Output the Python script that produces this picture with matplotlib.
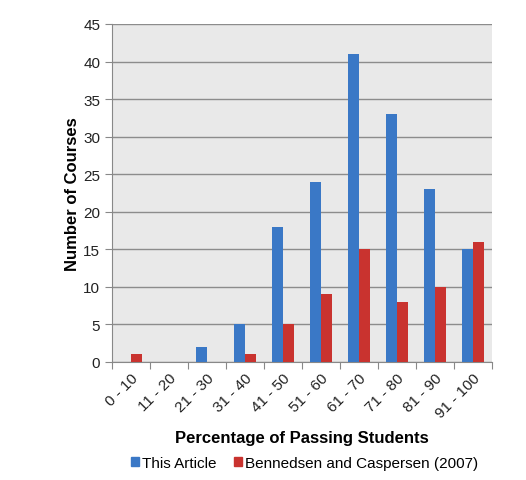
import numpy as np
import matplotlib
matplotlib.use("Agg")
import matplotlib.pyplot as plt
from matplotlib.patches import Patch

categories = ["0 - 10", "11 - 20", "21 - 30", "31 - 40", "41 - 50",
              "51 - 60", "61 - 70", "71 - 80", "81 - 90", "91 - 100"]
this_article = [0, 0, 2, 5, 18, 24, 41, 33, 23, 15]
bennedsen = [1, 0, 0, 1, 5, 9, 15, 8, 10, 16]
y_ticks = [0, 5, 10, 15, 20, 25, 30, 35, 40, 45]

plt.rcParams["font.family"] = ["Liberation Sans", "DejaVu Sans"]

blue = "#3a78c6"
red = "#c9332f"

fig = plt.figure(figsize=(5.26, 4.81), dpi=100)
ax = fig.add_axes([112 / 526, 1 - 363 / 481, 380 / 526, 338 / 481])
ax.set_facecolor("#e9e9e9")

x = np.arange(len(categories))
w = 0.29
ax.bar(x - w / 2, this_article, w, color=blue, zorder=3)
ax.bar(x + w / 2, bennedsen, w, color=red, zorder=3)

ax.set_xlim(-0.5, len(categories) - 0.5)
ax.set_ylim(0, 45)
ax.set_yticks(y_ticks)
ax.yaxis.grid(True, color="#8c8c8c", linewidth=1.0, zorder=1)

# major ticks at category borders, labels on minor ticks at centres
ax.set_xticks(np.arange(len(categories) + 1) - 0.5)
ax.set_xticklabels([])
ax.set_xticks(x, minor=True)
ax.set_xticklabels(categories, minor=True, rotation=45, ha="right",
                   rotation_mode="anchor", fontsize=11, color="#222222")
ax.tick_params(axis="x", which="minor", length=0, pad=6)
ax.tick_params(axis="x", which="major", length=5, color="#888888")
ax.tick_params(axis="y", length=5, color="#888888", labelsize=11,
               labelcolor="#222222")

for side in ["top", "right"]:
    ax.spines[side].set_visible(False)
ax.spines["left"].set_color("#888888")
ax.spines["bottom"].set_color("#888888")

ax.set_ylabel("Number of Courses", fontsize=12, fontweight="bold", labelpad=2)
ax.set_xlabel("Percentage of Passing Students", fontsize=12, fontweight="bold",
              labelpad=7)

handles = [Patch(color=blue, label="This Article"),
           Patch(color=red, label="Bennedsen and Caspersen (2007)")]
fig.legend(handles=handles, loc="lower center", bbox_to_anchor=(0.579, -0.008),
           ncol=2, frameon=False, fontsize=11, handlelength=0.5,
           handleheight=0.5, handletextpad=0.2, columnspacing=1.2)

fig.savefig("out.png", dpi=100)
